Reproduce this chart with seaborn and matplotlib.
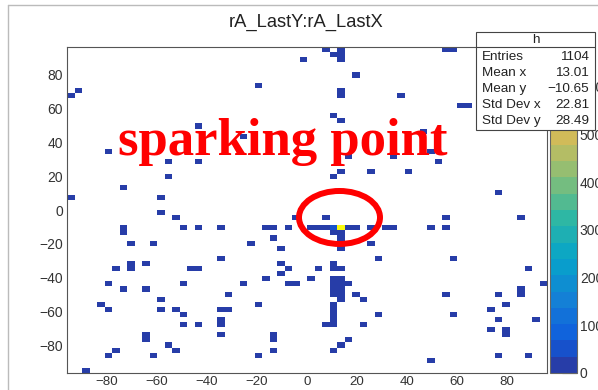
import numpy as np
import matplotlib
matplotlib.use("Agg")
import matplotlib.pyplot as plt
from matplotlib.colors import LinearSegmentedColormap, ListedColormap
from matplotlib.patches import Ellipse, Rectangle
from matplotlib.lines import Line2D
from matplotlib.ticker import MultipleLocator
import seaborn as sns

# ---------------- data ----------------
title = "rA_LastY:rA_LastX"
annotation = "sparking point"

# bin centres (3-unit bins from -96 to 96) and counts of the non-empty cells
cell_x = [
    # upper half
    -94.5, -91.5, -79.5, -73.5, -94.5, -55.5, -55.5, -58.5, -58.5, -43.5,
    -43.5, -19.5, -25.5, -1.5, 7.5, 10.5, 13.5, 13.5, 13.5, 19.5,
    13.5, 13.5, 37.5, 55.5, 58.5, 61.5, 64.5, 10.5, 13.5, 16.5,
    13.5, 10.5, 25.5, 34.5, 40.5, 52.5, 49.5, 46.5, 76.5,
    # lower left
    -52.5, -73.5, -73.5, -49.5, -43.5, -34.5, -70.5, -61.5, -34.5, -76.5,
    -70.5, -70.5, -64.5, -46.5, -43.5, -79.5, -73.5, -64.5, -49.5, -58.5,
    -82.5, -79.5, -58.5, -52.5, -49.5, -49.5, -43.5, -34.5, -31.5, -34.5,
    -34.5, -34.5, -64.5, -64.5, -55.5, -52.5, -76.5, -79.5, -61.5, -31.5,
    -88.5, -25.5, -22.5, -16.5, -19.5, -19.5, -13.5, -13.5, -13.5, -16.5,
    -13.5, -13.5, -10.5, -10.5, -10.5, -7.5, -7.5, -4.5, -7.5, -4.5,
    # central cluster
    7.5, 1.5, 4.5, 7.5, 10.5, 13.5, 16.5, 19.5, 25.5, 31.5,
    34.5, 10.5, 13.5, 13.5, 13.5, 25.5, 28.5, 4.5, 10.5, 10.5,
    13.5, 1.5, 10.5, 13.5, 10.5, 13.5, 10.5, 13.5, 10.5, 13.5,
    13.5, 16.5, 19.5, 22.5, 10.5, 10.5, 10.5, 10.5, 7.5, 10.5,
    22.5, 28.5, 10.5, 13.5, 16.5,
    # lower right
    55.5, 85.5, 49.5, 55.5, 58.5, 88.5, 94.5, 85.5, 85.5, 55.5,
    76.5, 79.5, 73.5, 58.5, 76.5, 91.5, 73.5, 79.5, 79.5, 76.5,
    88.5, 49.5,
]
cell_y = [
    # upper half
    67.5, 70.5, 34.5, 13.5, 7.5, 28.5, 19.5, 7.5, -1.5, 49.5,
    28.5, 73.5, 43.5, 88.5, 94.5, 91.5, 94.5, 91.5, 88.5, 79.5,
    70.5, 67.5, 67.5, 94.5, 94.5, 61.5, 61.5, 55.5, 52.5, 31.5,
    22.5, 19.5, 22.5, 31.5, 22.5, 28.5, 34.5, 46.5, 10.5,
    # lower left
    -4.5, -10.5, -13.5, -10.5, -10.5, -10.5, -19.5, -19.5, -28.5, -34.5,
    -31.5, -34.5, -31.5, -34.5, -34.5, -43.5, -46.5, -46.5, -43.5, -52.5,
    -55.5, -58.5, -58.5, -58.5, -61.5, -67.5, -67.5, -58.5, -58.5, -64.5,
    -67.5, -73.5, -73.5, -76.5, -79.5, -82.5, -82.5, -85.5, -85.5, -49.5,
    -94.5, -43.5, -19.5, -40.5, -55.5, -85.5, -73.5, -76.5, -82.5, -10.5,
    -10.5, -16.5, -22.5, -31.5, -37.5, -34.5, -43.5, -43.5, -10.5, -4.5,
    # central cluster
    -4.5, -10.5, -10.5, -10.5, -10.5, -10.5, -10.5, -10.5, -10.5, -10.5,
    -10.5, -13.5, -13.5, -16.5, -22.5, -19.5, -28.5, -34.5, -31.5, -34.5,
    -34.5, -40.5, -40.5, -40.5, -43.5, -43.5, -46.5, -46.5, -49.5, -49.5,
    -52.5, -43.5, -49.5, -52.5, -55.5, -58.5, -61.5, -64.5, -67.5, -67.5,
    -67.5, -61.5, -82.5, -79.5, -76.5,
    # lower right
    -4.5, -4.5, -10.5, -10.5, -28.5, -34.5, -43.5, -46.5, -49.5, -49.5,
    -49.5, -55.5, -58.5, -61.5, -64.5, -64.5, -70.5, -70.5, -73.5, -85.5,
    -85.5, -88.5,
]
cell_counts = [
    # upper half
    2, 2, 2, 2, 2, 2, 2, 2, 2, 2,
    2, 2, 2, 3, 2, 3, 5, 5, 4, 2,
    3, 3, 2, 2, 2, 2, 2, 3, 3, 2,
    2, 2, 2, 2, 2, 2, 2, 2, 2,
    # lower left
    1, 2, 2, 1, 1, 2, 1, 1, 1, 1,
    1, 2, 1, 1, 1, 1, 1, 1, 1, 1,
    1, 1, 1, 1, 1, 1, 1, 2, 2, 2,
    2, 1, 2, 2, 1, 1, 1, 1, 1, 1,
    1, 1, 1, 1, 1, 1, 2, 2, 1, 2,
    2, 1, 1, 2, 1, 1, 2, 2, 2, 1,
    # central cluster
    2, 3, 4, 6, 45, 650, 6, 4, 3, 2,
    2, 8, 14, 6, 3, 2, 2, 2, 4, 5,
    4, 2, 8, 9, 10, 10, 9, 8, 7, 8,
    5, 3, 2, 2, 6, 5, 5, 4, 3, 5,
    2, 2, 2, 2, 2,
    # lower right
    2, 2, 2, 2, 2, 2, 2, 2, 2, 2,
    2, 2, 2, 2, 2, 2, 2, 2, 2, 2,
    2, 2,
]
assert len(cell_x) == len(cell_y) == len(cell_counts)

x_ticks = [-80, -60, -40, -20, 0, 20, 40, 60, 80]
y_ticks = [-80, -60, -40, -20, 0, 20, 40, 60, 80]
z_ticks = [0, 100, 200, 300, 400, 500, 600]
z_max = 683

stats_labels = ["Entries", "Mean x", "Mean y", "Std Dev x", "Std Dev y"]
stats_values = ["1104", "13.01", "\u221210.65", "22.81", "28.49"]

# ---------------- style ----------------
sns.set_style("white")
plt.rcParams["font.family"] = ["Liberation Sans", "DejaVu Sans"]

W, H = 598, 390
fig = plt.figure(figsize=(W / 100, H / 100), dpi=100)
fig.patch.set_facecolor("white")

ax = fig.add_axes([67 / W, 1 - 373 / H, 480 / W, 326 / H])
cax = fig.add_axes([550 / W, 1 - 373 / H, 27 / W, 326 / H])

# ROOT kBird palette, 20 contour bands
stops = [0.0, 0.125, 0.25, 0.375, 0.5, 0.625, 0.75, 0.875, 1.0]
red = [0.2082, 0.0592, 0.0780, 0.0232, 0.1802, 0.5301, 0.8186, 0.9956, 0.9764]
green = [0.1664, 0.3599, 0.5041, 0.6419, 0.7178, 0.7492, 0.7328, 0.7862, 0.9832]
blue = [0.5293, 0.8684, 0.8385, 0.7914, 0.6425, 0.4662, 0.3499, 0.1968, 0.0539]
bird = LinearSegmentedColormap.from_list(
    "bird", list(zip(stops, zip(red, green, blue))), N=255)
ncont = 20
band_colors = [bird(min(1.0, int((i + 0.99) * 255 / ncont) / 254)) for i in range(ncont)]
cmap = ListedColormap(band_colors)

sns.histplot(
    x=cell_x, y=cell_y, weights=cell_counts,
    bins=64, binrange=((-96, 96), (-96, 96)),
    cmap=cmap, vmin=0, vmax=z_max,
    cbar=True, cbar_ax=cax, ax=ax,
)

ax.set_xlim(-96, 96)
ax.set_ylim(-96, 96)
ax.set_xlabel("")
ax.set_ylabel("")
ax.set_xticks(x_ticks)
ax.set_yticks(y_ticks)
ax.xaxis.set_minor_locator(MultipleLocator(5))
ax.yaxis.set_minor_locator(MultipleLocator(5))
ax.tick_params(axis="both", which="both", direction="in", colors="#555555",
               labelcolor="#333333", labelsize=10, width=0.8)
ax.tick_params(axis="y", which="major", length=10.4, pad=3)
ax.tick_params(axis="y", which="minor", length=5.2)
ax.tick_params(axis="x", which="major", length=7.0, pad=2.2, labelsize=9.6)
ax.tick_params(axis="x", which="minor", length=3.5)
for s in ax.spines.values():
    s.set_visible(True)
    s.set_color("#555555")
    s.set_linewidth(0.8)

# colour bar
cax.set_yticks(z_ticks)
cax.tick_params(axis="y", which="major", direction="in", length=10.8, width=0.8,
                colors="#333333", labelsize=10, pad=2, right=True, labelright=True)
cax.minorticks_off()
for s in cax.spines.values():
    s.set_edgecolor("#666666")
    s.set_linewidth(0.8)

# annotation
ax.add_patch(Ellipse((13, -4.4), 32.4, 31.2, fill=False, edgecolor="red",
                     lw=4.3, zorder=5))
fig.text(118 / W, 1 - 155 / H, annotation, fontsize=38, fontweight="bold",
         family=["Liberation Serif", "DejaVu Serif"], color="#ff0000",
         ha="left", va="baseline", zorder=12)

# title
fig.text(306 / W, 1 - 22 / H, title, ha="center", va="center",
         fontsize=13.2, color="#222222")

# canvas edge lines
fig.add_artist(Line2D([8 / W, 1], [1 - 5 / H, 1 - 5 / H], transform=fig.transFigure,
                      color="#bbbbbb", lw=1))
fig.add_artist(Line2D([8 / W, 8 / W], [0, 1 - 5 / H], transform=fig.transFigure,
                      color="#bbbbbb", lw=1))

# stats box
bx0, by0, bx1, by1 = 476, 32, 595, 130
fig.add_artist(Rectangle((bx0 / W, 1 - by1 / H), (bx1 - bx0) / W, (by1 - by0) / H,
                         transform=fig.transFigure, facecolor="white",
                         edgecolor="#444444", lw=0.8, zorder=10))
fig.add_artist(Line2D([bx0 / W, bx1 / W], [1 - 47 / H, 1 - 47 / H],
                      transform=fig.transFigure, color="#444444", lw=0.8, zorder=11))
fig.text(536 / W, 1 - 40 / H, "h", ha="center", va="center", fontsize=9.7,
         color="#222222", zorder=12)
for i, (lab, val) in enumerate(zip(stats_labels, stats_values)):
    yy = 1 - (57 + 16 * i) / H
    fig.text(482 / W, yy, lab, ha="left", va="center", fontsize=9.7,
             color="#222222", zorder=12)
    fig.text(589 / W, yy, val, ha="right", va="center", fontsize=9.7,
             color="#222222", zorder=12)

fig.savefig("out.png", dpi=100)
